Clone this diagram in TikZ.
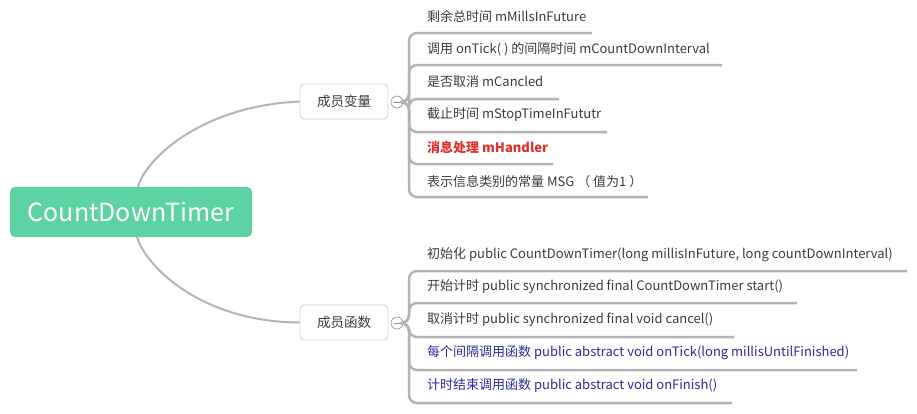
\documentclass[tikz,border=0pt]{standalone}
\usepackage{fontspec}
\usetikzlibrary{calc}
\setmainfont{Noto Sans CJK SC}
\definecolor{rootgreen}{HTML}{5DD3A4}
\definecolor{linegray}{HTML}{B3B3B3}
\definecolor{leafgray}{HTML}{3A3A3A}
\definecolor{redtxt}{HTML}{E0302E}
\definecolor{bluetxt}{HTML}{2A2A9C}
\definecolor{boxborder}{HTML}{D4D4D4}
\begin{document}
\begin{tikzpicture}[x=1pt,y=-1pt,
  root/.style={fill=rootgreen, rounded corners=5pt, minimum width=242pt, minimum height=50pt,
    inner sep=0pt, text=white, font=\fontsize{25}{29}\selectfont},
  branch/.style={draw=boxborder, fill=white, line width=0.9pt, rounded corners=4pt,
    minimum width=88pt, minimum height=35pt, inner sep=0pt, text=leafgray,
    font=\fontsize{13.5}{16}\selectfont},
  fold/.style={circle, draw=gray!80, fill=white, line width=0.7pt, minimum size=12pt, inner sep=0pt},
  conn/.style={draw=linegray, line width=2pt},
  leafline/.style={draw=linegray, line width=2.5pt, rounded corners=8pt},
  leaf/.style={anchor=west, inner sep=0pt, text=leafgray, font=\fontsize{13}{15}\selectfont},
  redleaf/.style={leaf, text=redtxt, font=\fontsize{13}{15}\selectfont\bfseries},
  blueleaf/.style={leaf, text=bluetxt}
]
\useasboundingbox (0,0) rectangle (917,413);

% root
\node[root] (root) at (131,212) {CountDownTimer};

% branches
\node[branch] (b1) at (344,101.5) {成员变量};
\node[branch] (b2) at (344,322.5) {成员函数};

\coordinate (r1) at (138,187);
\coordinate (r2) at (137,237);
\draw[conn] (r1) .. controls (145,160) and (200,106) .. (b1.west);
\draw[conn] (r2) .. controls (145,265) and (200,322) .. (b2.west);

% fold markers
\node[fold] (f1) at (397,102) {};
\node[fold] (f2) at (397,323) {};
\draw[gray!90, line width=0.8pt] ($(f1)+(-3.5,0)$) -- ($(f1)+(3.5,0)$);
\draw[gray!90, line width=0.8pt] ($(f2)+(-3.5,0)$) -- ($(f2)+(3.5,0)$);

\coordinate (vx) at (409,0);

% upper leaves
\node[leaf] (v1) at (427,16) {剩余总时间 mMillsInFuture};
\node[leaf] (v2) at (427,49) {调用 onTick( ) 的间隔时间 mCountDownInterval};
\node[leaf] (v3) at (427,82) {是否取消 mCancled};
\node[leaf] (v4) at (427,115) {截止时间 mStopTimeInFututr};
\node[redleaf] (v5) at (427,148) {消息处理 mHandler};
\node[leaf] (v6) at (427,182) {表示信息类别的常量 MSG （ 值为1 ）};

\coordinate (ve1) at (592,33);
\coordinate (ve2) at (722,65);
\coordinate (ve3) at (559,99);
\coordinate (ve4) at (607,132);
\coordinate (ve5) at (553,164);
\coordinate (ve6) at (648,197);

\foreach \i in {1,...,6}{
  \draw[leafline] (f1.east) -- (vx |- f1.east) -- (vx |- ve\i) -- (ve\i);
}

% lower leaves
\node[leaf] (m1) at (427,255) {初始化 public CountDownTimer(long millisInFuture, long countDownInterval)};
\node[leaf] (m2) at (427,287) {开始计时 public synchronized final CountDownTimer start()};
\node[leaf] (m3) at (427,320) {取消计时 public synchronized final void cancel()};
\node[blueleaf] (m4) at (427,353) {每个间隔调用函数 public abstract void onTick(long millisUntilFinished)};
\node[blueleaf] (m5) at (427,386) {计时结束调用函数 public abstract void onFinish()};

\coordinate (me1) at (907,271);
\coordinate (me2) at (797,303);
\coordinate (me3) at (734,337);
\coordinate (me4) at (857,370);
\coordinate (me5) at (732,403);

\foreach \i in {1,...,5}{
  \draw[leafline] (f2.east) -- (vx |- f2.east) -- (vx |- me\i) -- (me\i);
}
\end{tikzpicture}
\end{document}
